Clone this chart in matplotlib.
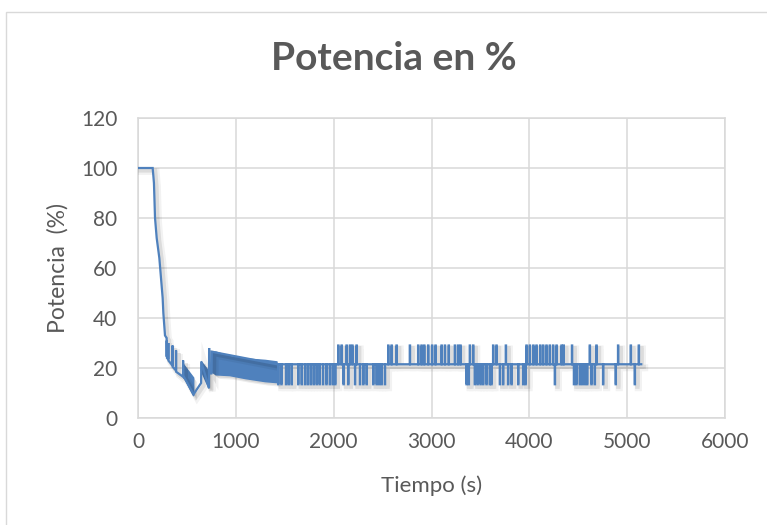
import matplotlib
matplotlib.use("Agg")
import matplotlib.pyplot as plt
import matplotlib.patheffects as pe
from matplotlib.patches import Rectangle

# ---------------- data ----------------
# start-up transient: time (s) and power (%)
early_t = [0, 150, 163, 174, 191, 218, 235, 252, 259, 276,
           293, 294, 295, 296, 309, 310, 311,
           352, 353, 354, 388, 389, 390,
           460, 461, 462, 568, 645, 647,
           725, 727, 729, 752, 754]
early_p = [100, 100, 94, 80, 72, 64, 56, 48, 42, 33,
           32, 24.5, 31, 24, 23.5, 30, 23,
           21, 29, 20.5, 19, 27, 18.5,
           16.5, 23, 17, 9.5, 14, 22.5,
           12, 28, 19, 17.5, 26.5]

# dense oscillation zones (upper / lower envelope)
wedge1_t = [462, 568]
wedge1_hi = [21.5, 16]
wedge1_lo = [17, 9]
wedge2_t = [647, 725]
wedge2_hi = [22.5, 18.5]
wedge2_lo = [19, 12]
band_t = [754, 800, 940, 1100, 1300, 1420]
band_hi = [26.5, 26.3, 24.5, 23.6, 23.0, 22.4]
band_lo = [18.5, 17.3, 17.0, 15.8, 14.6, 14.2]

# steady regime: baseline with short excursions
steady_start = 1420
steady_end = 5144
base_level = 21.5
up_level = 29
down_level = 13.5
spike_width = 3
up_t = [2046, 2080, 2131, 2165, 2190, 2233, 2557, 2591, 2642, 2778,
        2863, 2897, 2925, 2965, 3005, 3040, 3102, 3136, 3175, 3238,
        3270, 3295, 3391, 3425, 3629, 3663, 3759, 3970, 4004, 4040,
        4072, 4110, 4140, 4174, 4208, 4242, 4277, 4328, 4350, 4435,
        4617, 4685, 4906, 5036, 5118]
down_t = [1433, 1465, 1512, 1540, 1570, 1637, 1672, 1706, 1735, 1765,
          1795, 1825, 1855, 1890, 1925, 1960, 1990, 2015, 2100, 2148,
          2217, 2268, 2302, 2336, 2404, 2438, 2464, 2489, 2523, 3357,
          3380, 3442, 3470, 3500, 3527, 3561, 3595, 3612, 3698, 3731,
          3782, 3817, 3885, 3936, 3960, 4260, 4455, 4480, 4515, 4540,
          4566, 4590, 4634, 4668, 4753, 4882, 5077]

x_ticks = [0, 1000, 2000, 3000, 4000, 5000, 6000]
y_ticks = [0, 20, 40, 60, 80, 100, 120]

# ---------------- build the trace ----------------
events = sorted([(t, up_level) for t in up_t] + [(t, down_level) for t in down_t])
trace_t = list(early_t) + [steady_start]
trace_p = list(early_p) + [base_level]
for t, lvl in events:
    trace_t += [t, t, t + spike_width, t + spike_width]
    trace_p += [base_level, lvl, lvl, base_level]
trace_t.append(steady_end)
trace_p.append(base_level)

# ---------------- style ----------------
plt.rcParams['font.family'] = ['Lato', 'DejaVu Sans']
txt = '#595959'
grid = '#d9d9d9'
blue = '#4f81bd'

fig = plt.figure(figsize=(7.67, 5.25), dpi=100)
ax = fig.add_axes([138 / 767, 1 - 418 / 525, 587 / 767, 300 / 525])

shadow_line = [pe.SimpleLineShadow(offset=(2.5, -2.5), shadow_color='k', alpha=0.05, linewidth=5),
               pe.SimpleLineShadow(offset=(1.8, -1.8), shadow_color='k', alpha=0.09, linewidth=3),
               pe.Normal()]
shadow_patch = [pe.SimplePatchShadow(offset=(2.5, -3), shadow_rgbFace='k', alpha=0.07),
                pe.SimplePatchShadow(offset=(1.5, -2), shadow_rgbFace='k', alpha=0.09),
                pe.Normal()]

for ft, fh, fl in [(wedge1_t, wedge1_hi, wedge1_lo),
                   (wedge2_t, wedge2_hi, wedge2_lo),
                   (band_t, band_hi, band_lo)]:
    pc = ax.fill_between(ft, fl, fh, color=blue, linewidth=1.2, edgecolor=blue, zorder=3)
    pc.set_path_effects(shadow_patch)

line, = ax.plot(trace_t, trace_p, color=blue, linewidth=1.6, zorder=4,
                solid_joinstyle='miter')
line.set_path_effects(shadow_line)

ax.set_xlim(0, 6000)
ax.set_ylim(0, 120)
ax.set_xticks(x_ticks)
ax.set_yticks(y_ticks)
ax.grid(True, color=grid, linewidth=1.1, zorder=0)
ax.set_axisbelow(True)
for s in ax.spines.values():
    s.set_color(grid)
    s.set_linewidth(1.1)
ax.tick_params(length=0, labelsize=15, labelcolor=txt)
ax.tick_params(axis='x', pad=10)
ax.tick_params(axis='y', pad=15)

ax.set_xlabel('Tiempo (s)', fontsize=16, color=txt)
ax.set_ylabel('Potencia  (%)', fontsize=16.5, color=txt)
ax.xaxis.set_label_coords(0.5, -0.19)
ax.yaxis.set_label_coords(-0.118, 0.5)

fig.text(394 / 767, 1 - 58 / 525, 'Potencia en %', ha='center', va='center',
         fontsize=28, fontweight='bold', color=txt)

fig.patches.append(Rectangle((6 / 767, -0.05), 1.2, 1.05 - 12 / 525,
                             transform=fig.transFigure, fill=False,
                             edgecolor=grid, linewidth=1.0))

fig.savefig('out.png', dpi=100)
